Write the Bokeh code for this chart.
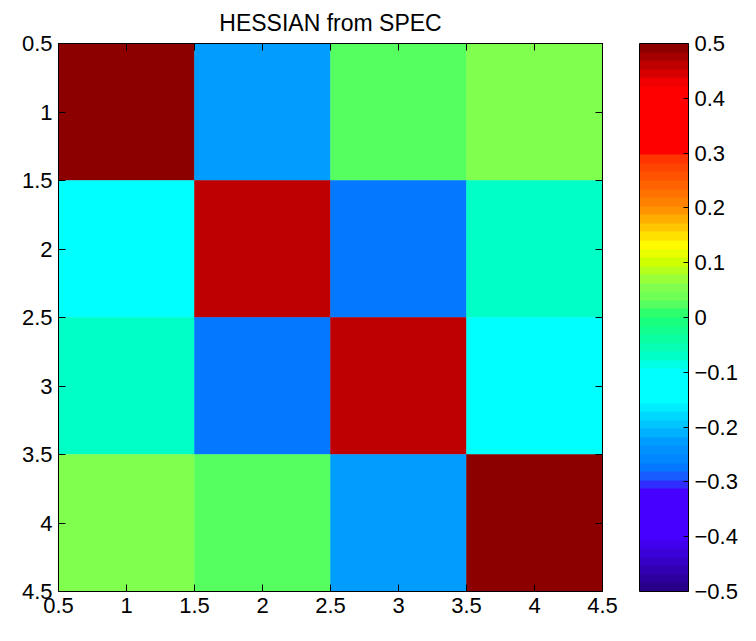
import numpy as np
from bokeh.plotting import figure
from bokeh.models import (LinearColorMapper, ColorBar, FixedTicker, Range1d,
                          LinearAxis, ColumnDataSource, Title)
from bokeh.transform import transform
from bokeh.embed import file_html
from bokeh.resources import INLINE

# ---------------- data ----------------
title_text = "HESSIAN from SPEC"
col_index = [1, 2, 3, 4]
row_index = [1, 2, 3, 4]
row_1 = [0.49, -0.23, 0.03, 0.06]
row_2 = [-0.12, 0.46, -0.27, -0.07]
row_3 = [-0.07, -0.27, 0.46, -0.12]
row_4 = [0.06, 0.03, -0.23, 0.49]
matrix_rows = [row_1, row_2, row_3, row_4]

axis_ticks = [0.5, 1, 1.5, 2, 2.5, 3, 3.5, 4, 4.5]
axis_tick_labels = ["0.5", "1", "1.5", "2", "2.5", "3", "3.5", "4", "4.5"]
cbar_ticks = [-0.5, -0.4, -0.3, -0.2, -0.1, 0.0, 0.1, 0.2, 0.3, 0.4, 0.5]
cbar_tick_labels = ["\u22120.5", "\u22120.4", "\u22120.3", "\u22120.2", "\u22120.1",
                    "0", "0.1", "0.2", "0.3", "0.4", "0.5"]
cbar_low, cbar_high = -0.5, 0.5

# ---------------- colormap (jet-like, 64 levels) ----------------
cmap_points = [
    (-0.50, (0.15, 0.00, 0.50)),
    (-0.40, (0.27, 0.00, 1.00)),
    (-0.32, (0.27, 0.00, 1.00)),
    (-0.29, (0.10, 0.35, 1.00)),
    (-0.27, (0.00, 0.50, 1.00)),
    (-0.23, (0.00, 0.60, 1.00)),
    (-0.15, (0.00, 1.00, 1.00)),
    (-0.10, (0.00, 1.00, 1.00)),
    (-0.07, (0.00, 1.00, 0.78)),
    (0.00, (0.10, 1.00, 0.45)),
    (0.03, (0.40, 1.00, 0.35)),
    (0.06, (0.53, 1.00, 0.30)),
    (0.10, (0.80, 1.00, 0.00)),
    (0.13, (1.00, 1.00, 0.00)),
    (0.20, (1.00, 0.55, 0.00)),
    (0.29, (1.00, 0.20, 0.00)),
    (0.30, (1.00, 0.00, 0.00)),
    (0.42, (1.00, 0.00, 0.00)),
    (0.50, (0.50, 0.00, 0.00)),
]
cp_v = np.array([c[0] for c in cmap_points])
cp_rgb = np.array([c[1] for c in cmap_points])
n_levels = 64
centers = cbar_low + (np.arange(n_levels) + 0.5) * (cbar_high - cbar_low) / n_levels
palette = []
for v in centers:
    r, g, b = [np.interp(v, cp_v, cp_rgb[:, k]) for k in range(3)]
    palette.append("#%02x%02x%02x" % (int(round(r * 255)), int(round(g * 255)), int(round(b * 255))))

mapper = LinearColorMapper(palette=palette, low=cbar_low, high=cbar_high)

xs, ys, vals = [], [], []
for ri, row in zip(row_index, matrix_rows):
    for ci, v in zip(col_index, row):
        xs.append(ci)
        ys.append(ri)
        vals.append(v)
source = ColumnDataSource(dict(x=xs, y=ys, value=vals))

FONT = "Liberation Sans"

p = figure(width=740, height=625, output_backend="svg", toolbar_location=None,
           x_range=Range1d(0.5, 4.5), y_range=Range1d(4.5, 0.5),
           x_axis_location="below", y_axis_location="left",
           min_border_left=58, min_border_right=0, min_border_top=10, min_border_bottom=34)
p.background_fill_color = "white"
p.border_fill_color = "white"
p.outline_line_color = "black"
p.outline_line_width = 1
p.grid.visible = False

p.rect(x="x", y="y", width=1, height=1, source=source,
       fill_color=transform("value", mapper), line_color=transform("value", mapper),
       line_width=0.5)

def style_axis(ax, show_labels=True, standoff=5):
    ax.ticker = FixedTicker(ticks=axis_ticks)
    ax.major_label_overrides = {t: l for t, l in zip(axis_ticks, axis_tick_labels)}
    ax.axis_line_color = "black"
    ax.major_tick_line_color = "black"
    ax.major_tick_in = 7
    ax.major_tick_out = 0
    ax.minor_tick_line_color = None
    ax.major_label_text_font = FONT
    ax.major_label_text_color = "black"
    ax.major_label_standoff = standoff
    if show_labels:
        ax.major_label_text_font_size = "22px"
    else:
        ax.major_label_text_font_size = "0px"
        ax.major_label_text_alpha = 0

for ax in p.xaxis + p.yaxis:
    style_axis(ax, True, 6)

top_ax = LinearAxis()
style_axis(top_ax, False, 0)
p.add_layout(top_ax, "above")
right_ax = LinearAxis()
style_axis(right_ax, False, 0)
p.add_layout(right_ax, "right")

# blank title on the right: only reserves the gap between the frame and the colour bar
gap = Title(text=" ", text_font_size="1px", standoff=34)
p.add_layout(gap, "right")

cbar = ColorBar(color_mapper=mapper, width=49, padding=0, margin=0,
                ticker=FixedTicker(ticks=cbar_ticks),
                major_label_overrides={t: l for t, l in zip(cbar_ticks, cbar_tick_labels)},
                major_label_text_font=FONT, major_label_text_font_size="22px",
                major_label_text_color="black", label_standoff=6,
                major_tick_line_color="black", major_tick_in=5, major_tick_out=0,
                bar_line_color="black", bar_line_width=1,
                border_line_color=None, background_fill_color=None)
p.add_layout(cbar, "right")

p.title.text = title_text
p.title.text_font = FONT
p.title.text_font_size = "23px"
p.title.text_font_style = "normal"
p.title.text_color = "black"
p.title.align = "center"
p.title.standoff = 15

open("out.html", "w").write(file_html(p, INLINE))
